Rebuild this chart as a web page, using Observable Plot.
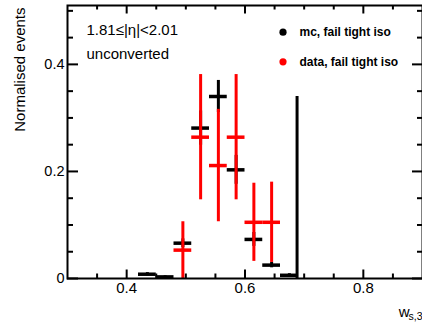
<!DOCTYPE html>
<html><head><meta charset="utf-8">
<script src="https://cdn.jsdelivr.net/npm/d3@7"></script>
<script src="https://cdn.jsdelivr.net/npm/@observablehq/plot@0.6"></script>
<style>html,body{margin:0;padding:0;background:#fff;overflow:hidden}</style>
</head><body><div id="chart"></div>
<script>
// ---- data ----
const mcCenters   = [0.435, 0.465, 0.495, 0.525, 0.555, 0.585, 0.615, 0.645, 0.675];
const mcValues    = [0.008, 0.003, 0.066, 0.281, 0.340, 0.203, 0.073, 0.025, 0.006];
const mcErrors    = [0.003, 0.002, 0.008, 0.032, 0.030, 0.027, 0.013, 0.005, 0.003];
const dataCenters = [0.495, 0.525, 0.555, 0.585, 0.615, 0.645];
const dataValues  = [0.053, 0.264, 0.211, 0.264, 0.105, 0.105];
const dataErrors  = [0.053, 0.117, 0.105, 0.117, 0.073, 0.075];
const spikeX      = [0.688];
const spikeTop    = [0.340];
const binWidth    = 0.03;
const xMajor = [0.4, 0.6, 0.8];
const xMajorLabels = ["0.4", "0.6", "0.8"];
const xMinor = [0.35, 0.45, 0.5, 0.55, 0.65, 0.7, 0.75, 0.85];
const yMajor = [0, 0.2, 0.4];
const yMajorLabels = ["0", "0.2", "0.4"];
const yMinor = [0.05, 0.1, 0.15, 0.25, 0.3, 0.35, 0.45, 0.5];
const seriesNames = ["mc, fail tight iso", "data, fail tight iso"];
const seriesColors = ["black", "red"];

const mc = mcCenters.map((c, i) => ({c, v: mcValues[i], e: mcErrors[i]}));
const dat = dataCenters.map((c, i) => ({c, v: dataValues[i], e: dataErrors[i]}));

const W = 422, H = 331, mL = 67, mR = 0, mT = 5, mB = 53;
const iW = W - mL - mR, iH = H - mT - mB;

function errMarks(arr, color) {
  return [
    Plot.ruleX(arr, {x: "c", y1: d => Math.max(0, d.v - d.e), y2: d => d.v + d.e, stroke: color, strokeWidth: 3}),
    Plot.ruleY(arr, {y: "v", x1: d => d.c - binWidth / 2, x2: d => d.c + binWidth / 2, stroke: color, strokeWidth: 3.5})
  ];
}

const chart = Plot.plot({
  width: W, height: H,
  marginLeft: mL, marginRight: mR, marginTop: mT, marginBottom: mB,
  style: {fontFamily: "'Liberation Sans', Arial, Helvetica, sans-serif", background: "white", color: "black", overflow: "visible"},
  x: {domain: [0.3, 0.9], axis: null},
  y: {domain: [0, 0.51], axis: null},
  marks: [
    // ticks (inward)
    Plot.ruleX(xMajor, {x: d => d, insetTop: iH - 8.5, stroke: "black", strokeWidth: 2}),
    Plot.ruleX(xMinor, {x: d => d, insetTop: iH - 4.5, stroke: "black", strokeWidth: 2}),
    Plot.ruleX(xMajor, {x: d => d, insetBottom: iH - 8.5, stroke: "black", strokeWidth: 2}),
    Plot.ruleX(xMinor, {x: d => d, insetBottom: iH - 4.5, stroke: "black", strokeWidth: 2}),
    Plot.ruleY(yMajor, {y: d => d, insetRight: iW - 11, stroke: "black", strokeWidth: 2}),
    Plot.ruleY(yMinor, {y: d => d, insetRight: iW - 6, stroke: "black", strokeWidth: 2}),
    Plot.ruleY(yMajor, {y: d => d, insetLeft: iW - 10, stroke: "black", strokeWidth: 2}),
    Plot.ruleY(yMinor, {y: d => d, insetLeft: iW - 5, stroke: "black", strokeWidth: 2}),
    // tick labels
    Plot.text(yMajor, {y: d => d, text: (d, i) => yMajorLabels[i], frameAnchor: "left", textAnchor: "end", lineAnchor: "middle", dx: -3, fontSize: 14.5, fill: "black"}),
    Plot.text(xMajor, {x: d => d, text: (d, i) => xMajorLabels[i], frameAnchor: "bottom", lineAnchor: "top", dy: 4.3, fontSize: 15, fill: "black"}),
    // data
    ...errMarks(mc, seriesColors[0]),
    Plot.ruleX(spikeX, {x: d => d, y1: 0, y2: (d, i) => spikeTop[i], stroke: seriesColors[0], strokeWidth: 3}),
    ...errMarks(dat, seriesColors[1]),
    Plot.frame({stroke: "black", strokeWidth: 2}),
    // axis titles
    Plot.text(["Normalised events"], {frameAnchor: "top-left", dx: 24 - mL, dy: 7 - mT, rotate: -90, textAnchor: "end", lineAnchor: "bottom", fontSize: 15, fill: "black"}),
    Plot.text(["w"], {frameAnchor: "bottom-right", dx: -13, dy: 38, textAnchor: "end", lineAnchor: "bottom", fontSize: 15, fill: "black"}),
    Plot.text(["s,3"], {frameAnchor: "bottom-right", dx: 0, dy: 41.5, textAnchor: "end", lineAnchor: "bottom", fontSize: 10.5, fill: "black"}),
    // annotations
    Plot.text(["1.81≤|η|<2.01"], {frameAnchor: "top-left", dx: 19, dy: 29, textAnchor: "start", lineAnchor: "bottom", fontSize: 15, fill: "black"}),
    Plot.text(["unconverted"], {frameAnchor: "top-left", dx: 19, dy: 53, textAnchor: "start", lineAnchor: "bottom", fontSize: 15, fill: "black"}),
    // legend
    Plot.dot([0], {frameAnchor: "top-left", dx: 282.5 - mL, dy: 31.7 - mT, r: 3.6, fill: seriesColors[0], stroke: "none"}),
    Plot.dot([0], {frameAnchor: "top-left", dx: 282.5 - mL, dy: 61.3 - mT, r: 3.6, fill: seriesColors[1], stroke: "none"}),
    Plot.text([seriesNames[0]], {frameAnchor: "top-left", dx: 299 - mL, dy: 35.5 - mT, textAnchor: "start", lineAnchor: "bottom", fontSize: 12, fontWeight: "bold", fill: "black"}),
    Plot.text([seriesNames[1]], {frameAnchor: "top-left", dx: 299 - mL, dy: 65 - mT, textAnchor: "start", lineAnchor: "bottom", fontSize: 12, fontWeight: "bold", fill: "black"})
  ]
});
document.getElementById("chart").appendChild(chart);
</script>
</body></html>
